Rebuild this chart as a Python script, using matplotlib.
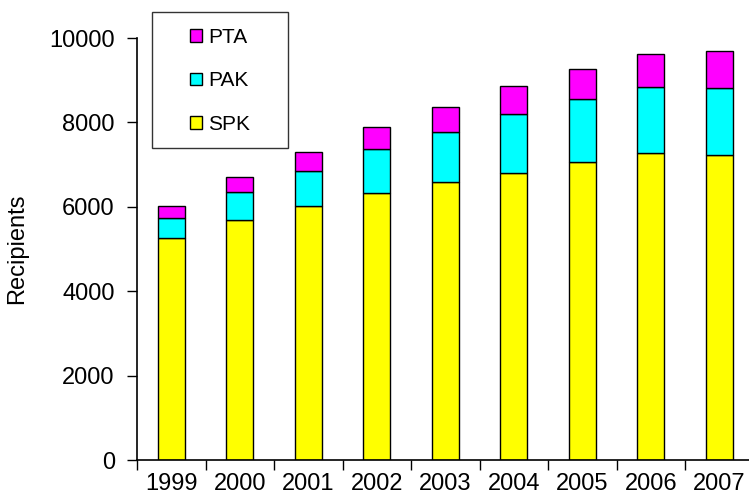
import matplotlib
matplotlib.use("Agg")
import matplotlib.pyplot as plt
import numpy as np
from matplotlib.patches import Patch, Rectangle

years = ["1999", "2000", "2001", "2002", "2003", "2004", "2005", "2006", "2007"]
spk = [5250, 5680, 6020, 6320, 6580, 6810, 7050, 7280, 7230]
pak = [480, 680, 840, 1050, 1200, 1390, 1500, 1570, 1590]
pta = [290, 350, 440, 530, 580, 660, 720, 780, 870]

plt.rcParams['font.family'] = ['Liberation Sans', 'DejaVu Sans']

W, H = 749, 498
fig = plt.figure(figsize=(W/100, H/100), dpi=100)
ax = fig.add_axes([137/W, 1-460/H, 616.5/W, 422/H])

x = np.arange(len(years))
w = 0.4
spk_a = np.array(spk); pak_a = np.array(pak); pta_a = np.array(pta)
ax.bar(x, spk_a, w, color='#FFFF00', edgecolor='black', linewidth=1.0, label='SPK')
ax.bar(x, pak_a, w, bottom=spk_a, color='#00FFFF', edgecolor='black', linewidth=1.0, label='PAK')
ax.bar(x, pta_a, w, bottom=spk_a+pak_a, color='#FF00FF', edgecolor='black', linewidth=1.0, label='PTA')

ax.set_xlim(-0.5, len(years)-0.5)
ax.set_ylim(0, 10000)
ax.set_yticks(np.arange(0, 10001, 2000))
ax.tick_params(axis='y', direction='out', length=7, width=1, labelsize=17, pad=9)
ax.set_xticks(x)
ax.set_xticklabels(years)
ax.set_xticks(np.arange(-0.5, len(years)), minor=True)
ax.tick_params(axis='x', which='major', length=0, labelsize=17, pad=9.5)
ax.tick_params(axis='x', which='minor', direction='out', length=7, width=1)

for s in ['top', 'right']:
    ax.spines[s].set_visible(False)
for s in ['left', 'bottom']:
    ax.spines[s].set_linewidth(1.2)

ax.set_ylabel('Recipients', fontsize=17)
ax.yaxis.set_label_coords((28.5-137)/616.5, 0.5)

# legend frame
fig.patches.append(Rectangle((151.5/W, 1-148/H), 136.5/W, 135.5/H,
                             transform=fig.transFigure, fill=False,
                             edgecolor='#333333', linewidth=1.0))
handles = [Patch(facecolor='#FF00FF', edgecolor='black', label='PTA'),
           Patch(facecolor='#00FFFF', edgecolor='black', label='PAK'),
           Patch(facecolor='#FFFF00', edgecolor='black', label='SPK')]
leg = fig.legend(handles=handles, loc='center',
                 bbox_to_anchor=(220/W, 1-81/H),
                 bbox_transform=fig.transFigure,
                 fontsize=15, handlelength=0.55, handleheight=0.55,
                 handletextpad=0.3, labelspacing=1.18, borderpad=0,
                 frameon=False, borderaxespad=0)

fig.savefig('out.png', dpi=100)
